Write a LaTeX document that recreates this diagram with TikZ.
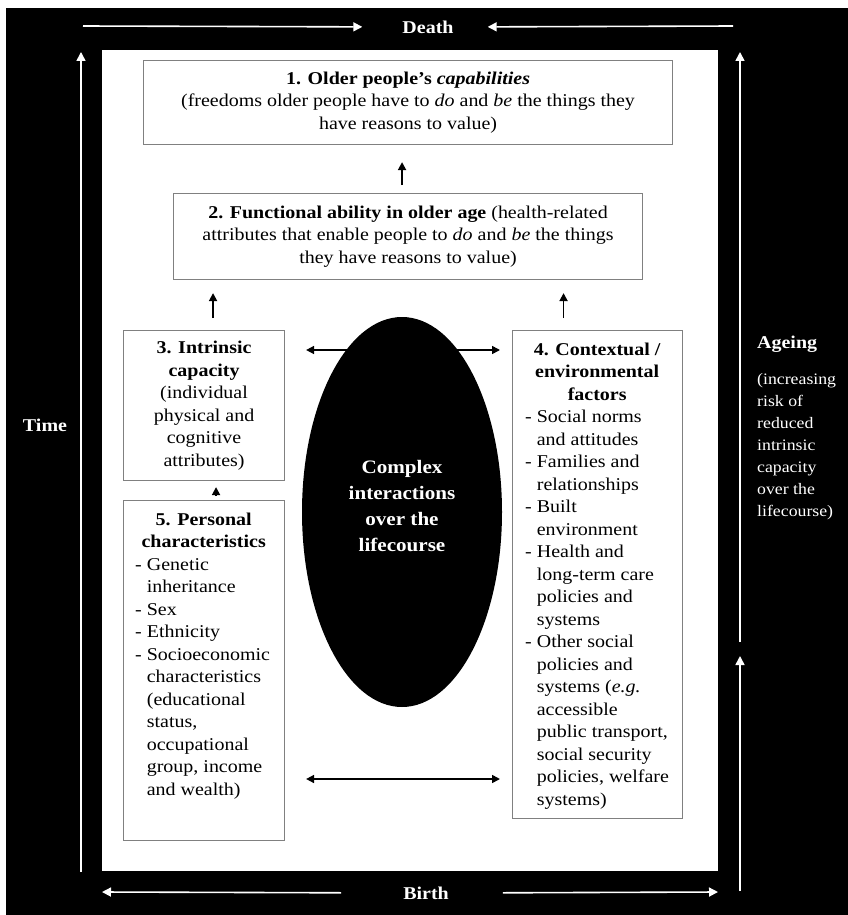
\documentclass[tikz,border=0pt]{standalone}
\usepackage{fontspec}
\setmainfont{Liberation Serif}[FakeStretch=1.11]
\usetikzlibrary{arrows.meta,shapes.geometric}
\newcommand\fsmain{\fontsize{18}{22.5}\selectfont}
\newcommand\fsside{\fontsize{16}{22}\selectfont}
\newcommand\hg{\hphantom{-}\ }
\begin{document}
\begin{tikzpicture}[x=1pt,y=-1pt,
  bx/.style={draw={rgb,255:red,128;green,128;blue,128}, line width=1.1pt, fill=white, inner sep=0pt, font=\fsmain, align=center},
  txt/.style={inner sep=0pt, font=\fsmain, align=left},
  warr/.style={white, line width=1.6pt, -{Triangle[length=9pt,width=9pt]}},
  barr/.style={black, line width=1.8pt, -{Triangle[length=8pt,width=8pt]}},
  darr/.style={black, line width=1.6pt, {Triangle[length=8pt,width=8pt]}-{Triangle[length=8pt,width=8pt]}},
  lab/.style={white, inner sep=0pt, font=\fsmain\bfseries},
]
\useasboundingbox (0,0) rectangle (848,915);
\fill[white] (0,0) rectangle (848,915);
\fill[black] (6,8) rectangle (848,915);
\fill[white] (102,50) rectangle (718,871);

% outer labels
\node[lab] (death) at (428,27) {Death};
\node[lab] (birth) at (426,893) {Birth};
\node[lab] (time) at (45,425) {Time};
\node[lab, anchor=base west] (ageing) at (757,348) {Ageing};
\node[white, inner sep=0pt, font=\fsside, align=left, anchor=north west] (ageingtxt) at (757,373) {(increasing\\risk of\\reduced\\intrinsic\\capacity\\over the\\lifecourse)};

\coordinate (tl) at (83,26);
\coordinate (tr) at (733,26);
\coordinate (bl) at (102,892);
\coordinate (br) at (718,892);
\coordinate (lb) at (81,872);
\coordinate (lt) at (81,52);
\coordinate (rt) at (740,52);
\coordinate (rm) at (740,642);
\coordinate (rm2) at (740,656);
\coordinate (rb) at (740,891);

\draw[warr, shorten >=40pt] (tl) -- (death.west);
\draw[warr, shorten >=34pt] (tr) -- (death.east);
\draw[warr, shorten <=62pt] (birth.west) -- (bl);
\draw[warr, shorten <=54pt] (birth.east) -- (br);
\draw[warr] (lb) -- (lt);
\draw[warr] (rm) -- (rt);
\draw[warr] (rb) -- (rm2);

% boxes
\node[bx, minimum width=529pt, minimum height=84pt, anchor=north west] (b1) at (143,60)
  {\textbf{1. Older people’s \textit{capabilities}}\\(freedoms older people have to \textit{do} and \textit{be} the things they\\have reasons to value)};
\node[bx, minimum width=469pt, minimum height=86pt, anchor=north west] (b2) at (173,193)
  {\textbf{2. Functional ability in older age} (health-related\\attributes that enable people to \textit{do} and \textit{be} the things\\they have reasons to value)};
\node[bx, minimum width=161pt, minimum height=150pt, anchor=north west] (b3) at (123,330)
  {\textbf{3. Intrinsic}\\\textbf{capacity}\\(individual\\physical and\\cognitive\\attributes)};
\node[bx, minimum width=170pt, minimum height=488pt, anchor=north west] (b4) at (512,330) {};
\node[txt, anchor=north west] (b4t) at (525,342.6)
  {\makebox[144pt][c]{\textbf{4. Contextual /}}\\
   \makebox[144pt][c]{\textbf{environmental}}\\
   \makebox[144pt][c]{\textbf{factors}}\\
   -\ Social norms\\\hg and attitudes\\
   -\ Families and\\\hg relationships\\
   -\ Built\\\hg environment\\
   -\ Health and\\\hg long-term care\\\hg policies and\\\hg systems\\
   -\ Other social\\\hg policies and\\\hg systems (\textit{e.g.}\\\hg accessible\\\hg public transport,\\\hg social security\\\hg policies, welfare\\\hg systems)};
\node[bx, minimum width=161pt, minimum height=340pt, anchor=north west] (b5) at (123,500) {};
\node[txt, anchor=north west] (b5t) at (135,512.6)
  {\makebox[137pt][c]{\textbf{5. Personal}}\\
   \makebox[137pt][c]{\textbf{characteristics}}\\
   -\ Genetic\\\hg inheritance\\
   -\ Sex\\
   -\ Ethnicity\\
   -\ Socioeconomic\\\hg characteristics\\\hg (educational\\\hg status,\\\hg occupational\\\hg group, income\\\hg and wealth)};

% ellipse
\node[ellipse, fill=black, minimum width=200pt, minimum height=390pt, inner sep=0pt] (el) at (402,512) {};
\node[white, inner sep=0pt, align=center, font=\fontsize{19}{26}\selectfont\bfseries] (elt) at ([yshift=6pt]el.center) {Complex\\interactions\\over the\\lifecourse};

% arrows
\draw[barr, shorten <=8pt, shorten >=17pt] ([xshift=-6pt]b2.north) -- ([xshift=-6pt]b2.north |- b1.south);
\draw[barr, shorten <=12pt, shorten >=13pt] ([xshift=9pt]b3.north) -- ([xshift=9pt]b3.north |- b2.south);
\draw[barr, shorten <=12pt, shorten >=13pt] ([xshift=-34pt]b4.north) -- ([xshift=-34pt]b4.north |- b2.south);
\draw[barr, shorten <=4pt, shorten >=6pt] ([xshift=12pt]b5.north) -- ([xshift=12pt]b3.south);
\coordinate (h1) at (0,350);
\coordinate (h2) at (0,779);
\draw[darr, shorten <=21pt, shorten >=12pt] (b3.east |- h1) -- (b4.west |- h1);
\draw[darr, shorten <=21pt, shorten >=12pt] (b3.east |- h2) -- (b4.west |- h2);
\end{tikzpicture}
\end{document}
